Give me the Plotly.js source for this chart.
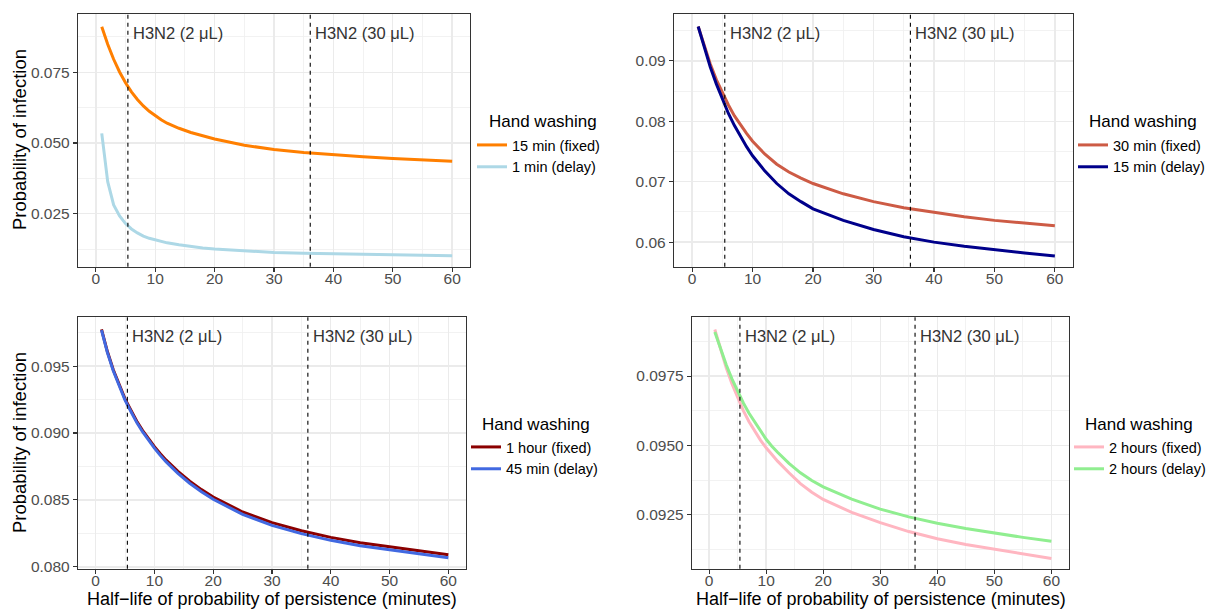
<!DOCTYPE html>
<html>
<head>
<meta charset="utf-8">
<script src="https://cdn.plot.ly/plotly-3.0.1.min.js"></script>
<style>html,body{margin:0;padding:0;background:#fff;}#chart{width:1206px;height:610px;}</style>
</head>
<body>
<div id="chart"></div>
<script>
// ---- data ----
const halfLife = [1,2,3,4,5,6,7,8,9,10,11,12,14,16,18,20,25,30,35,40,45,50,55,60];

const p1Fixed15 = [.0911,.0849,.0796,.0751,.0713,.0681,.0654,.0631,.0612,.0596,.0582,.0570,.0552,.0537,.0525,.0514,.0492,.0477,.0466,.0458,.0451,.0445,.0440,.0435];
const p1Delay1  = [.0534,.0363,.0281,.0242,.0215,.0196,.0182,.0171,.0163,.0157,.0152,.0147,.0140,.0134,.0129,.0125,.0118,.0113,.0110,.0108,.0106,.0104,.0102,.0101];

const p2Fixed30 = [.0957,.0924,.0895,.0869,.0847,.0827,.0809,.0794,.0780,.0767,.0756,.0746,.0729,.0716,.0706,.0697,.0680,.0667,.0657,.0649,.0642,.0636,.0631,.0627];
const p2Delay15 = [.0957,.0922,.0890,.0862,.0836,.0813,.0793,.0775,.0758,.0743,.0730,.0718,.0697,.0680,.0667,.0655,.0636,.0621,.0609,.0600,.0593,.0587,.0582,.0577];

const p3Fixed1h = [.09775,.09609,.09473,.0936,.09255,.0917,.09088,.09018,.08956,.08898,.08845,.08797,.08713,.0864,.08577,.08522,.0841,.0833,.0827,.0822,.0818,.0815,.0812,.0809];
const p3Delay45 = [.0977,.09602,.09465,.09351,.09246,.09161,.09078,.09008,.08945,.08887,.08833,.08784,.08699,.08625,.08561,.08505,.08392,.0831,.08248,.08198,.08157,.08126,.08096,.08067];

const p4Fixed2h = [.09918,.09845,.0978,.09722,.0967,.09625,.09585,.0955,.09519,.09491,.09466,.09443,.09401,.09362,.09331,.09305,.09258,.09221,.09189,.09163,.09142,.09125,.09108,.09092];
const p4Delay2h = [.09909,.09847,.09791,.0974,.09694,.09653,.09616,.09583,.09551,.09522,.09497,.09475,.09435,.09401,.09373,.0935,.09306,.0927,.09242,.09219,.092,.09183,.09168,.09154];

const seriesNames = [
  ["15 min (fixed)", "1 min (delay)"],
  ["30 min (fixed)", "15 min (delay)"],
  ["1 hour (fixed)", "45 min (delay)"],
  ["2 hours (fixed)", "2 hours (delay)"]
];
const vlinePositions = [5.4, 36.1];
const vlineLabels = ["H3N2 (2 \u03bcL)", "H3N2 (30 \u03bcL)"];
const legendTitle = "Hand washing";
const yTitle = "Probability of infection";
const xTitle = "Half\u2212life of probability of persistence (minutes)";

const yTicks = [
  [0.025, 0.050, 0.075],
  [0.06, 0.07, 0.08, 0.09],
  [0.080, 0.085, 0.090, 0.095],
  [0.0925, 0.0950, 0.0975]
];
const yTickText = [
  ["0.025", "0.050", "0.075"],
  ["0.06", "0.07", "0.08", "0.09"],
  ["0.080", "0.085", "0.090", "0.095"],
  ["0.0925", "0.0950", "0.0975"]
];
const xTicks = [0, 10, 20, 30, 40, 50, 60];

// ---- styling ----
const FONT = "Liberation Sans, Arial, Helvetica, sans-serif";
const colors = [
  ["#FF7F00", "#ADD8E6"],
  ["#CD5B45", "#00008B"],
  ["#8B0000", "#4169E1"],
  ["#FFB6C1", "#90EE90"]
];
const panelData = [
  [p1Fixed15, p1Delay1],
  [p2Fixed30, p2Delay15],
  [p3Fixed1h, p3Delay45],
  [p4Fixed2h, p4Delay2h]
];
const W = 1206, H = 610;
// plot area boxes in px: [left, right, top, bottom]
const boxes = [
  [78, 470, 14.3, 266.7],
  [674, 1073, 14.3, 266.7],
  [78, 466, 317.3, 568.7],
  [692, 1068.5, 317.3, 568.7]
];
const yRanges = [[0.00626, 0.0955], [0.05593, 0.09772], [0.07986, 0.09865], [0.09055, 0.09962]];
const yMinor = [0.0125, 0.005, 0.0025, 0.00125];
// legend entries box (left, top) and legend title (left, centre y), px
const legendPos = [[472, 129], [1073, 129], [466, 431], [1069, 431]];
const legendTitlePos = [[488, 122], [1088, 122], [481, 424], [1084, 424]];

const traces = [];
const layout = {
  width: W, height: H,
  margin: {l: 0, r: 0, t: 0, b: 0, autoexpand: false},
  paper_bgcolor: "#ffffff",
  plot_bgcolor: "#ffffff",
  font: {family: FONT, color: "#000000"},
  showlegend: true,
  shapes: [],
  annotations: []
};

for (let p = 0; p < 4; p++) {
  const sfx = p === 0 ? "" : String(p + 1);
  const xa = "xaxis" + sfx, ya = "yaxis" + sfx;
  const xr = "x" + sfx, yr = "y" + sfx;
  const legName = p === 0 ? "legend" : "legend" + (p + 1);
  const b = boxes[p];

  for (let s = 0; s < 2; s++) {
    traces.push({
      type: "scatter", mode: "lines",
      x: halfLife, y: panelData[p][s],
      name: seriesNames[p][s],
      xaxis: xr, yaxis: yr,
      legend: legName,
      line: {color: colors[p][s], width: 3}
    });
  }

  layout[xa] = {
    domain: [b[0] / W, b[1] / W],
    anchor: yr,
    range: [-3, 63],
    tickvals: xTicks,
    ticktext: xTicks.map(String),
    ticks: "outside", ticklen: 4, tickwidth: 1.1, tickcolor: "#333333",
    ticklabelstandoff: -7,
    tickfont: {size: 15.5, color: "#4D4D4D", family: FONT},
    showgrid: true, gridcolor: "#EBEBEB", gridwidth: 1.4,
    minor: {dtick: 5, tick0: 5, showgrid: true, gridcolor: "#EFEFEF", gridwidth: 0.8, ticks: ""},
    zeroline: false, automargin: false,
    showline: true, mirror: true, linecolor: "#333333", linewidth: 1.2
  };
  layout[ya] = {
    domain: [1 - b[3] / H, 1 - b[2] / H],
    anchor: xr,
    range: yRanges[p],
    tickvals: yTicks[p],
    ticktext: yTickText[p],
    ticks: "outside", ticklen: 4, tickwidth: 1.1, tickcolor: "#333333",
    tickfont: {size: 15.5, color: "#4D4D4D", family: FONT},
    showgrid: true, gridcolor: "#EBEBEB", gridwidth: 1.4,
    minor: {dtick: yMinor[p], tick0: yTicks[p][0] - yMinor[p], showgrid: true, gridcolor: "#EFEFEF", gridwidth: 0.8, ticks: ""},
    zeroline: false, automargin: false,
    showline: true, mirror: true, linecolor: "#333333", linewidth: 1.2
  };

  layout[legName] = {
    x: legendPos[p][0] / W, y: 1 - legendPos[p][1] / H,
    xanchor: "left", yanchor: "top",
    bgcolor: "rgba(0,0,0,0)",
    font: {size: 14.5, color: "#000000", family: FONT},
    itemwidth: 30,
    tracegroupgap: 0
  };
  layout.annotations.push({
    xref: "paper", yref: "paper",
    x: legendTitlePos[p][0] / W, y: 1 - legendTitlePos[p][1] / H,
    xanchor: "left", yanchor: "middle", borderpad: 0,
    text: legendTitle, showarrow: false,
    font: {size: 17, color: "#000000", family: FONT}
  });

  for (let v = 0; v < vlinePositions.length; v++) {
    layout.shapes.push({
      type: "line", xref: xr, yref: yr + " domain",
      x0: vlinePositions[v], x1: vlinePositions[v], y0: 0, y1: 1,
      line: {color: "#000000", width: 1.1, dash: "4px,4px"}
    });
    layout.annotations.push({
      xref: xr, yref: yr + " domain",
      x: vlinePositions[v], y: 0.925,
      xanchor: "left", yanchor: "middle", xshift: 3,
      text: vlineLabels[v], showarrow: false,
      font: {size: 16.5, color: "#333333", family: FONT}
    });
  }
}

// axis titles
[[19, 140], [19, 443]].forEach(function (c) {
  layout.annotations.push({
    xref: "paper", yref: "paper", x: c[0] / W, y: 1 - c[1] / H,
    xanchor: "center", yanchor: "middle", textangle: -90,
    text: yTitle, showarrow: false,
    font: {size: 18.5, color: "#000000", family: FONT}
  });
});
[272, 880.5].forEach(function (cx) {
  layout.annotations.push({
    xref: "paper", yref: "paper", x: cx / W, y: 0,
    xanchor: "center", yanchor: "bottom", borderpad: 0,
    text: xTitle, showarrow: false,
    font: {size: 18, color: "#000000", family: FONT}
  });
});

Plotly.newPlot("chart", traces, layout, {displayModeBar: false, staticPlot: true});
</script>
</body>
</html>
